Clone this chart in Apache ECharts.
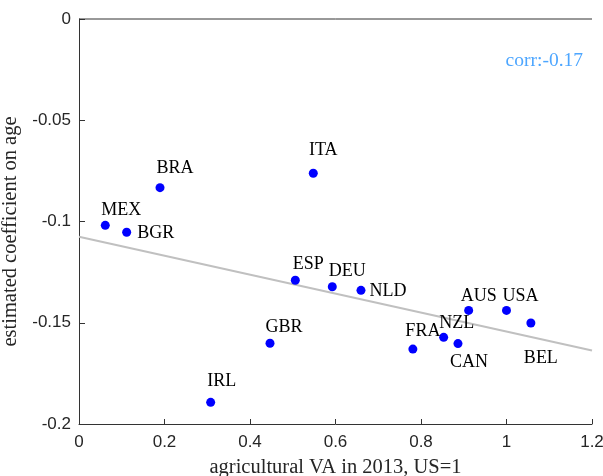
<!DOCTYPE html>
<html>
<head>
<meta charset="utf-8">
<script src="https://cdn.jsdelivr.net/npm/echarts@6/dist/echarts.min.js"></script>
<style>
  html, body { margin: 0; padding: 0; background: #fff; }
  #chart { width: 603px; height: 476px; }
</style>
</head>
<body>
<div id="chart"></div>
<script>
// Country codes with agricultural value added (US = 1) and estimated age coefficient
var countries = ['MEX', 'BGR', 'BRA', 'ITA', 'GBR', 'IRL', 'ESP', 'DEU', 'NLD', 'AUS', 'USA', 'BEL', 'NZL', 'CAN', 'FRA'];
var agriVA    = [0.0615, 0.1115, 0.1895, 0.548, 0.4468, 0.308, 0.506, 0.5925, 0.6596, 0.9115, 1.0, 1.057, 0.853, 0.8865, 0.781];
var ageCoef   = [-0.1019, -0.1053, -0.0833, -0.0762, -0.1601, -0.1893, -0.129, -0.1322, -0.134, -0.1439, -0.1439, -0.1501, -0.1572, -0.1603, -0.163];

var xTickLabels = ['0', '0.2', '0.4', '0.6', '0.8', '1', '1.2'];
var yTickLabels = ['-0.2', '-0.15', '-0.1', '-0.05', '0'];
var corrText = 'corr:-0.17';

// Where each country tag sits relative to its dot (px)
var tagOffset = {
  MEX: [16, -15], BGR: [29, 1], BRA: [15, -19], ITA: [10, -23], GBR: [14, -16],
  IRL: [11, -21], ESP: [13, -16], DEU: [15, -15], NLD: [27, 1], AUS: [10, -14],
  USA: [14, -14], BEL: [10, 35], NZL: [13, -14], CAN: [11, 19], FRA: [10, -18]
};

// Least-squares fit line over the plotted points
function olsFit(xs, ys) {
  var n = xs.length, mx = 0, my = 0;
  for (var i = 0; i < n; i++) { mx += xs[i]; my += ys[i]; }
  mx /= n; my /= n;
  var sxy = 0, sxx = 0;
  for (var j = 0; j < n; j++) {
    sxy += (xs[j] - mx) * (ys[j] - my);
    sxx += (xs[j] - mx) * (xs[j] - mx);
  }
  var b = sxy / sxx;
  return { slope: b, intercept: my - b * mx };
}
var fit = olsFit(agriVA, ageCoef);
var xMin = 0, xMax = 1.2, yMin = -0.2, yMax = 0;
var fitLine = [[xMin, fit.intercept + fit.slope * xMin], [xMax, fit.intercept + fit.slope * xMax]];
// Upper frame edge of the plot box
var topEdge = [[xMin, yMax], [xMax, yMax]];

var serif = '"Liberation Serif", "Times New Roman", serif';
var sans = '"Liberation Sans", Arial, sans-serif';
var axisColor = '#333333';

var points = countries.map(function (c, i) {
  return {
    name: c,
    value: [agriVA[i], ageCoef[i]],
    label: { offset: tagOffset[c] }
  };
});

function tickFormatter(values, labels) {
  return function (v) {
    for (var i = 0; i < values.length; i++) {
      if (Math.abs(values[i] - v) < 1e-9) return labels[i];
    }
    return '';
  };
}

var chart = echarts.init(document.getElementById('chart'), null, { renderer: 'canvas' });
chart.setOption({
  backgroundColor: '#ffffff',
  animation: false,
  grid: { left: 79, right: 11, top: 19, bottom: 52, containLabel: false, outerBoundsMode: 'none' },
  xAxis: {
    type: 'value', position: 'bottom', min: xMin, max: xMax, interval: 0.2,
    name: 'agricultural VA in 2013, US=1', nameLocation: 'middle', nameGap: 33,
    nameTextStyle: { fontFamily: serif, fontSize: 20.5, color: '#262626' },
    axisLine: { show: true, onZero: false, lineStyle: { color: axisColor, width: 1 } },
    axisTick: { show: true, inside: true, length: 5, lineStyle: { color: axisColor } },
    axisLabel: { fontFamily: sans, fontSize: 17, color: '#262626', margin: 10,
      formatter: tickFormatter([0, 0.2, 0.4, 0.6, 0.8, 1, 1.2], xTickLabels) },
    splitLine: { show: false }
  },
  yAxis: {
    type: 'value', min: yMin, max: yMax, interval: 0.05,
    name: 'estimated coefficient on age', nameLocation: 'middle', nameGap: 53,
    nameTextStyle: { fontFamily: serif, fontSize: 20.5, color: '#262626', padding: [0, 20, 0, 0] },
    axisLine: { show: true, onZero: false, lineStyle: { color: axisColor, width: 1 } },
    axisTick: { show: true, inside: true, length: 6, lineStyle: { color: axisColor } },
    axisLabel: { fontFamily: sans, fontSize: 17, color: '#262626', margin: 8,
      formatter: tickFormatter([-0.2, -0.15, -0.1, -0.05, 0], yTickLabels) },
    splitLine: { show: false }
  },
  series: [{
    type: 'line',
    data: topEdge,
    symbol: 'none',
    clip: false,
    silent: true,
    lineStyle: { color: axisColor, width: 1 },
    z: 5
  }, {
    type: 'line',
    data: fitLine,
    symbol: 'none',
    lineStyle: { color: '#c0c0c0', width: 2 },
    z: 1
  }, {
    type: 'scatter',
    data: points,
    symbol: 'circle',
    symbolSize: 9,
    itemStyle: { color: '#0000ff', opacity: 1 },
    label: {
      show: true, position: 'inside', formatter: '{b}',
      fontFamily: serif, fontSize: 18, color: '#000000'
    },
    z: 3
  }],
  graphic: [{
    type: 'text',
    right: 20, top: 51,
    style: { text: corrText, fontFamily: serif, fontSize: 19.5, fill: '#4da6ff' },
    z: 100
  }]
});
</script>
</body>
</html>
